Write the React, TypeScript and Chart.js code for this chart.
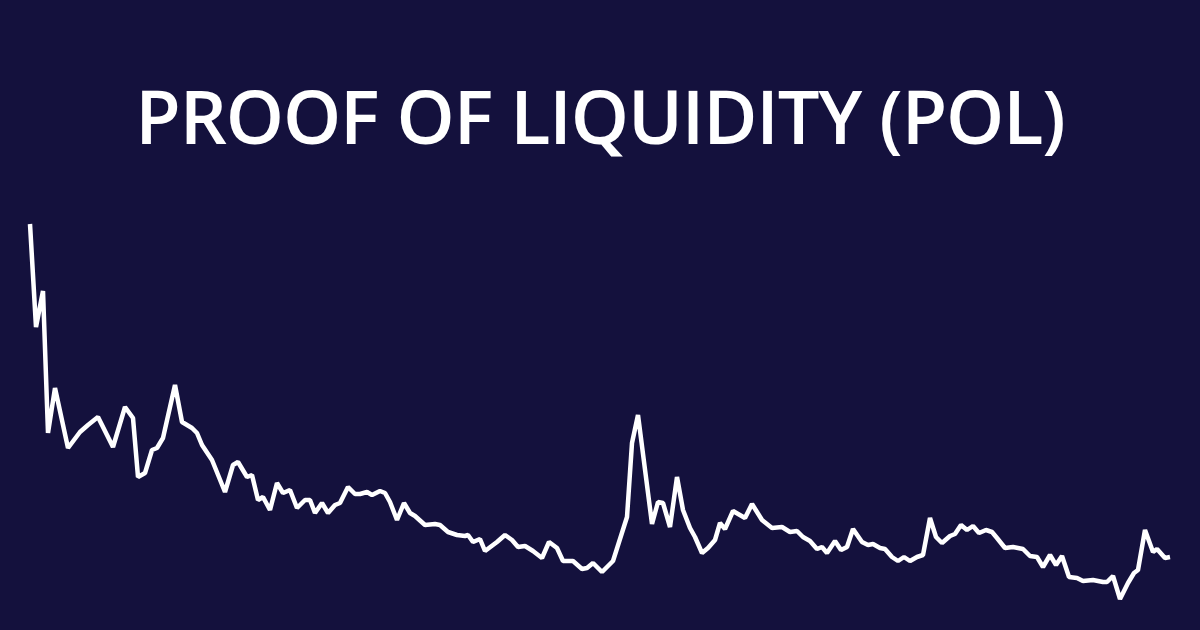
import React, { useEffect, useRef } from "react";
import { Chart, registerables } from "chart.js";

Chart.register(...registerables);

const TITLE = "PROOF OF LIQUIDITY (POL)";

// time index (days-ish) of each recorded price point
const days: number[] = [
  0, 6, 13, 18, 25, 38, 50, 58, 68, 83, 95, 103, 108, 115, 122, 127, 133, 145, 152, 162,
  167, 172, 182, 195, 203, 208, 217, 222, 228, 233, 240, 247, 253, 260, 267, 270, 275, 280, 285, 292,
  298, 305, 310, 318, 325, 330, 337, 342, 350, 355, 360, 367, 374, 380, 385, 395, 405, 410, 418, 427,
  435, 438, 443, 450, 455, 467, 475, 482, 488, 495, 503, 512, 519, 527, 533, 543, 552, 557, 563, 572,
  583, 597, 602, 608, 622, 628, 633, 640, 647, 653, 660, 665, 672, 678, 685, 690, 695, 703, 715, 722,
  732, 742, 752, 760, 767, 773, 780, 787, 792, 797, 805, 811, 817, 823, 832, 838, 843, 850, 855, 862,
  868, 874, 880, 887, 893, 900, 906, 912, 920, 925, 931, 937, 943, 949, 956, 962, 967, 975, 983, 993,
  1000, 1007, 1013, 1020, 1026, 1032, 1039, 1047, 1053, 1063, 1073, 1077, 1083, 1090, 1098, 1104, 1108, 1115, 1123, 1127,
  1135, 1140,
];

// POL price (USD) at each point
const prices: number[] = [
  0.396, 0.293, 0.329, 0.187, 0.232, 0.172, 0.188, 0.195, 0.203, 0.173, 0.213, 0.202, 0.143, 0.147, 0.170, 0.172, 0.182, 0.235, 0.198, 0.192,
  0.187, 0.175, 0.160, 0.128, 0.155, 0.158, 0.143, 0.145, 0.120, 0.123, 0.110, 0.137, 0.127, 0.130, 0.112, 0.115, 0.120, 0.120, 0.107, 0.117,
  0.107, 0.115, 0.117, 0.133, 0.126, 0.126, 0.128, 0.125, 0.129, 0.127, 0.118, 0.100, 0.117, 0.107, 0.104, 0.095, 0.096, 0.095, 0.088, 0.085,
  0.084, 0.085, 0.078, 0.081, 0.069, 0.078, 0.085, 0.080, 0.073, 0.074, 0.069, 0.062, 0.078, 0.072, 0.059, 0.059, 0.051, 0.052, 0.057, 0.048,
  0.059, 0.103, 0.177, 0.205, 0.096, 0.118, 0.117, 0.093, 0.143, 0.110, 0.092, 0.083, 0.067, 0.072, 0.080, 0.097, 0.091, 0.109, 0.102, 0.116,
  0.100, 0.092, 0.093, 0.088, 0.089, 0.083, 0.079, 0.071, 0.073, 0.067, 0.079, 0.070, 0.073, 0.091, 0.078, 0.075, 0.076, 0.072, 0.071, 0.063,
  0.059, 0.063, 0.059, 0.063, 0.065, 0.102, 0.083, 0.077, 0.084, 0.086, 0.095, 0.090, 0.094, 0.087, 0.090, 0.088, 0.082, 0.072, 0.073, 0.071,
  0.064, 0.063, 0.053, 0.065, 0.055, 0.064, 0.043, 0.042, 0.039, 0.040, 0.038, 0.038, 0.044, 0.021, 0.037, 0.047, 0.050, 0.090, 0.068, 0.071,
  0.062, 0.063,
];

const BG = "#14113d";

export default function App() {
  const canvasRef = useRef<HTMLCanvasElement | null>(null);

  useEffect(() => {
    document.body.style.margin = "0";
    const canvas = canvasRef.current;
    if (!canvas) return;
    const points = days.map((d, i) => ({ x: d, y: prices[i] }));
    const chart = new Chart(canvas, {
      type: "line",
      data: {
        datasets: [
          {
            label: "POL",
            data: points,
            borderColor: "#ffffff",
            borderWidth: 4.5,
            pointRadius: 0,
            tension: 0,
            borderJoinStyle: "bevel",
            fill: false,
          } as any,
        ],
      },
      options: {
        animation: false,
        responsive: false,
        maintainAspectRatio: false,
        layout: { padding: { left: 30, right: 30, top: 200, bottom: 10 } },
        plugins: { legend: { display: false }, tooltip: { enabled: false }, title: { display: false } },
        scales: {
          x: { type: "linear", min: 0, max: 1140, display: false },
          y: { type: "linear", min: 0, max: 0.42, display: false },
        },
        clip: false as any,
      } as any,
    });
    return () => chart.destroy();
  }, []);

  return (
    <div style={{ position: "fixed", left: 0, top: 0, width: 1200, height: 630, background: BG, overflow: "hidden" }}>
      <div
        style={{
          position: "absolute",
          left: 0,
          top: 79,
          width: 1200,
          textAlign: "center",
          color: "#ffffff",
          fontFamily: "'Open Sans', sans-serif",
          fontWeight: 600,
          fontSize: 74,
          lineHeight: "74px",
          letterSpacing: "-1.1px",
          whiteSpace: "nowrap",
        }}
      >
        {TITLE}
      </div>
      <canvas ref={canvasRef} width={1200} height={630} style={{ position: "absolute", left: 0, top: 0, width: 1200, height: 630 }} />
    </div>
  );
}
